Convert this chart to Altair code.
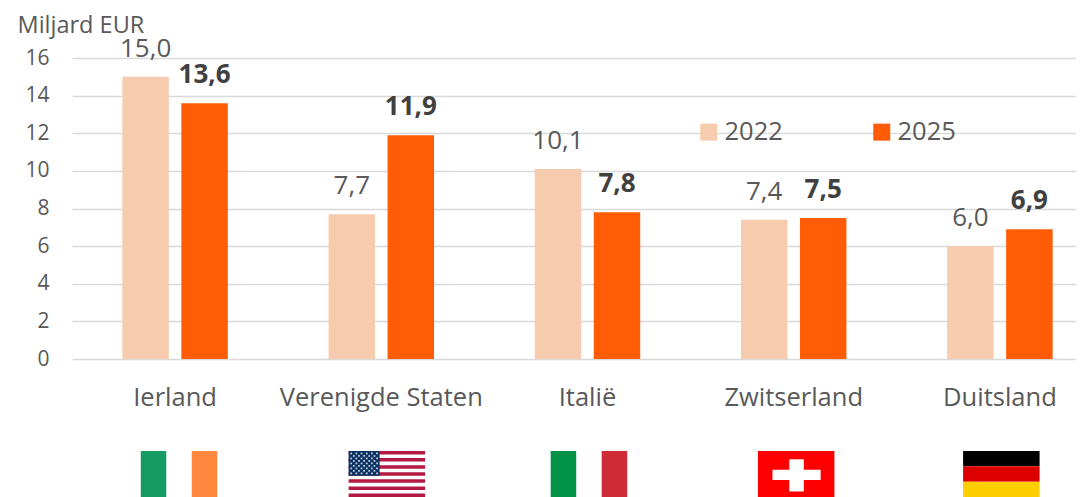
import altair as alt
import pandas as pd

FONT = "Open Sans"
COUNTRIES = ["Ierland", "Verenigde Staten", "Italië", "Zwitserland", "Duitsland"]
VALUES_2022 = [15.0, 7.7, 10.1, 7.4, 6.0]
VALUES_2025 = [13.6, 11.9, 7.8, 7.5, 6.9]
YEARS = ["2022", "2025"]
YEAR_COLORS = ["#F7CBAE", "#FF5C05"]
Y_TICKS = [0, 2, 4, 6, 8, 10, 12, 14, 16]

# Flags: centre in category units, stripes as fractions of the flag (l, r, top, bottom, colour)
FLAG_CENTRES = [0.519, 1.527, 2.507, 3.512, 4.507]
FLAG_WIDTH = 0.371
IRELAND = [(0, 1/3, 0, 1, "#169B62"), (2/3, 1, 0, 1, "#FF883E")]
ITALY = [(0, 1/3, 0, 1, "#009246"), (2/3, 1, 0, 1, "#CE2B37")]
GERMANY = [(0, 1, 0, 1/3, "#000000"), (0, 1, 1/3, 2/3, "#DD0000"), (0, 1, 2/3, 1, "#FFCE00")]
SWITZERLAND = [(0, 1, 0, 1, "#FF0000"), (0.19, 0.82, 0.41, 0.63, "#FFFFFF"), (0.41, 0.60, 0.18, 0.88, "#FFFFFF")]
USA = [(0, 1, r / 13, (r + 1) / 13, "#B31942") for r in range(0, 13, 2)] + [(0, 0.405, 0, 7 / 13, "#0A3161")]
FLAGS = [IRELAND, USA, ITALY, SWITZERLAND, GERMANY]

bars = pd.DataFrame(
    [{"land": c, "jaar": "2022", "waarde": v, "label": f"{v:.1f}".replace(".", ",")} for c, v in zip(COUNTRIES, VALUES_2022)]
    + [{"land": c, "jaar": "2025", "waarde": v, "label": f"{v:.1f}".replace(".", ",")} for c, v in zip(COUNTRIES, VALUES_2025)]
)

rows = []
for centre, flag in zip(FLAG_CENTRES, FLAGS):
    for l, r, t, b, col in flag:
        rows.append({"x0": centre + (l - .5) * FLAG_WIDTH, "x1": centre + (r - .5) * FLAG_WIDTH, "y0": t, "y1": b, "c": col})
flags = pd.DataFrame(rows)

stars = []
for row in range(9):
    even = row % 2 == 0
    for k in range(6 if even else 5):
        u = 0.034 + 0.0675 * k if even else 0.0675 + 0.0675 * k
        stars.append({"x": FLAG_CENTRES[1] + (u - .5) * FLAG_WIDTH, "y": (row + 1) * 0.054})
stars = pd.DataFrame(stars)

x_scale = alt.Scale(domain=COUNTRIES, range=[0, 1031], paddingInner=0, paddingOuter=0)
x_band = alt.X("land:N", sort=COUNTRIES, title=None, scale=x_scale,
               axis=alt.Axis(labelFontSize=25.5, labelFont=FONT, labelColor="#595959", labelAngle=0, labelLimit=400,
                             labelPadding=26, domain=False, ticks=False, grid=False))
x_off = alt.XOffset("jaar:N", sort=YEARS,
                    scale=alt.Scale(domain=YEARS, paddingInner=0.212, paddingOuter=0.854))
y_val = alt.Y("waarde:Q", title="Miljard EUR",
              scale=alt.Scale(domain=[0, 16], nice=False),
              axis=alt.Axis(values=Y_TICKS, tickCount=9, labelOverlap=False, labelFontSize=21, labelFont=FONT, labelColor="#595959",
                            labelPadding=23, domain=False, ticks=False, grid=True, gridColor="#D9D9D9", gridWidth=1.6,
                            titleFont=FONT, titleFontSize=23.5, titleColor="#595959", titleFontWeight="normal",
                            titleAngle=0, titleAlign="left", titleBaseline="alphabetic", titleX=-55, titleY=-26))

bar_layer = alt.Chart(bars).mark_bar().encode(
    x=x_band, xOffset=x_off, y=y_val,
    color=alt.Color("jaar:N", sort=YEARS, title=None, scale=alt.Scale(domain=YEARS, range=YEAR_COLORS),
                    legend=alt.Legend(orient="none", legendX=624, legendY=61, direction="horizontal",
                                      symbolType="square", symbolSize=289, symbolStrokeWidth=0, symbolOpacity=1,
                                      labelFont=FONT, labelFontSize=25.5, labelColor="#595959", labelOffset=3,
                                      columnPadding=86, padding=0, titlePadding=0)),
)

def labels(year, weight, color):
    return alt.Chart(bars[bars.jaar == year]).mark_text(
        font=FONT, fontSize=26, fontWeight=weight, color=color, baseline="alphabetic", dy=-20
    ).encode(x=x_band, xOffset=x_off, y=y_val, text="label:N")

flag_x = alt.X("x0:Q", axis=None, scale=alt.Scale(domain=[0, 5], range=[0, 1031], nice=False, zero=False))
flag_y = alt.Y("y0:Q", axis=None, scale=alt.Scale(domain=[0, 1], range=[393, 439], nice=False, zero=False))
flag_layer = alt.Chart(flags).mark_rect(strokeWidth=0).encode(
    x=flag_x, x2="x1:Q", y=flag_y, y2="y1:Q",
    color=alt.Color("c:N", scale=None, legend=None),
)
star_layer = alt.Chart(stars).mark_point(filled=True, shape="square", size=3, color="#DDE6F2", opacity=0.9).encode(
    x=alt.X("x:Q", axis=None, scale=alt.Scale(domain=[0, 5], range=[0, 1031], nice=False, zero=False)),
    y=alt.Y("y:Q", axis=None, scale=alt.Scale(domain=[0, 1], range=[393, 439], nice=False, zero=False)),
)

main = alt.layer(bar_layer, labels("2022", "normal", "#595959"), labels("2025", "bold", "#404040"))
fl = alt.layer(flag_layer, star_layer)
chart = alt.layer(main, fl).resolve_scale(x="independent", y="independent", color="independent").properties(
    width=1068, height=489,
    autosize=alt.AutoSizeParams(type="none", contains="padding"),
    padding={"left": 64, "top": 50, "right": 0, "bottom": 138},
).configure_view(stroke=None)

chart.save("out.html", embed_options={"renderer": "svg", "actions": False})
